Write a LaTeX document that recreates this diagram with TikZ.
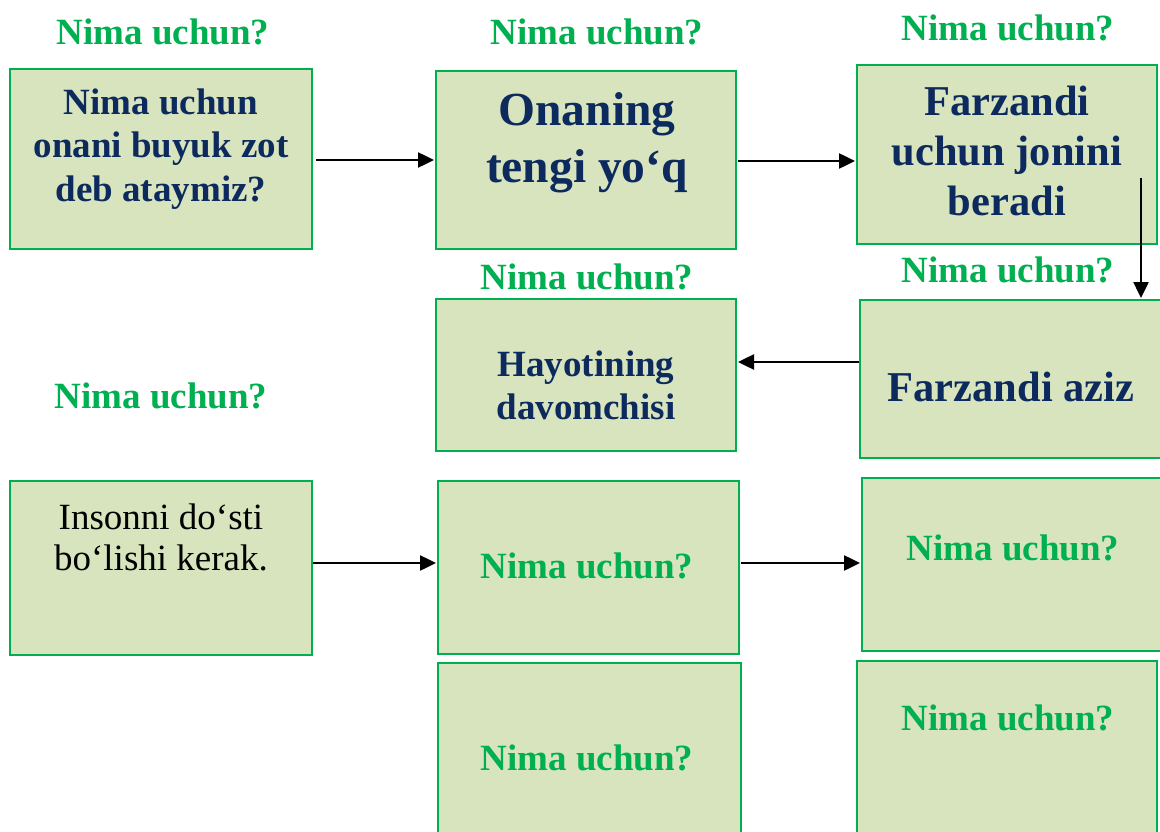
\documentclass[tikz,border=0pt]{standalone}
\usepackage{fontspec}
\setmainfont{Liberation Serif}
\usetikzlibrary{fit,arrows.meta}
\definecolor{navy}{HTML}{0D2A5E}
\definecolor{qgreen}{HTML}{00B050}
\definecolor{boxfill}{HTML}{D7E4BD}
\tikzset{
  box/.style={draw=qgreen, fill=boxfill, line width=2pt, inner sep=0pt, rectangle},
  arr/.style={line width=2.5pt, -{Triangle[length=16pt,width=15pt]}},
  qlabel/.style={text=qgreen, font=\fontsize{37}{43}\selectfont\bfseries, inner sep=0pt},
  navytxt/.style={text=navy, align=center, inner sep=0pt},
}
\begin{document}
\begin{tikzpicture}[x=1pt,y=-1pt]
\clip (0,0) rectangle (1160,832);
\fill[white] (0,0) rectangle (1160,832);
% boxes
\node[box, fit={(10,69) (312,249)}] (A) {};
\node[box, fit={(436,71) (736,249)}] (B) {};
\node[box, fit={(857,65) (1157,244)}] (C) {};
\node[box, fit={(436,299) (736,451)}] (D) {};
\node[box, fit={(860,300) (1168,458)}] (E) {};
\node[box, fit={(10,481) (312,655)}] (F) {};
\node[box, fit={(438,481) (739,654)}] (G) {};
\node[box, fit={(862,478) (1168,651)}] (H) {};
\node[box, fit={(438,663) (741,845)}] (I) {};
\node[box, fit={(857,661) (1157,845)}] (J) {};
% box texts
\node[navytxt, font=\fontsize{37}{43.5}\selectfont\bfseries] (tA) at (161,149) {Nima uchun\\onani buyuk zot\\deb ataymiz?};
\node[navytxt, font=\fontsize{47.5}{57}\selectfont\bfseries] (tB) at (587,143) {Onaning\\tengi yo‘q};
\node[navytxt, font=\fontsize{42.5}{50}\selectfont\bfseries] (tC) at (1007,151) {Farzandi\\uchun jonini\\beradi};
\node[navytxt, font=\fontsize{37}{43}\selectfont\bfseries] (tD) at (586,385) {Hayotining\\davomchisi};
\node[navytxt, font=\fontsize{42.5}{50}\selectfont\bfseries] (tE) at (1011,387) {Farzandi aziz};
\node[align=center, inner sep=0pt, text=black, font=\fontsize{37}{41}\selectfont] (tF) at (161,537) {Insonni do‘sti\\bo‘lishi kerak.};
\node[qlabel] (tG) at (587,566) {Nima uchun?};
\node[qlabel] (tH) at (1013,548) {Nima uchun?};
\node[qlabel] (tI) at (587,758) {Nima uchun?};
\node[qlabel] (tJ) at (1008,718) {Nima uchun?};
% free labels
\node[qlabel] (l1) at (163,32) {Nima uchun?};
\node[qlabel] (l2) at (597,32) {Nima uchun?};
\node[qlabel] (l3) at (1008,28) {Nima uchun?};
\node[qlabel] (l4) at (587,277) {Nima uchun?};
\node[qlabel] (l5) at (1008,270) {Nima uchun?};
\node[qlabel] (l6) at (161,396) {Nima uchun?};
% connectors
\coordinate (a1) at (316,160);
\draw[arr, shorten >=1pt] (a1) -- (a1 -| B.west);
\coordinate (b1) at (738,161);
\draw[arr, shorten >=1pt] (b1) -- (b1 -| C.west);
\coordinate (c1) at (1141,178);
\draw[arr, shorten >=1pt] (c1) -- (c1 |- E.north);
\coordinate (e1) at (859,362);
\draw[arr, shorten >=1pt] (e1) -- (e1 -| D.east);
\coordinate (f1) at (313,563);
\draw[arr, shorten >=1pt] (f1) -- (f1 -| G.west);
\coordinate (g1) at (741,563);
\draw[arr, shorten >=1pt] (g1) -- (g1 -| H.west);
\end{tikzpicture}
\end{document}
